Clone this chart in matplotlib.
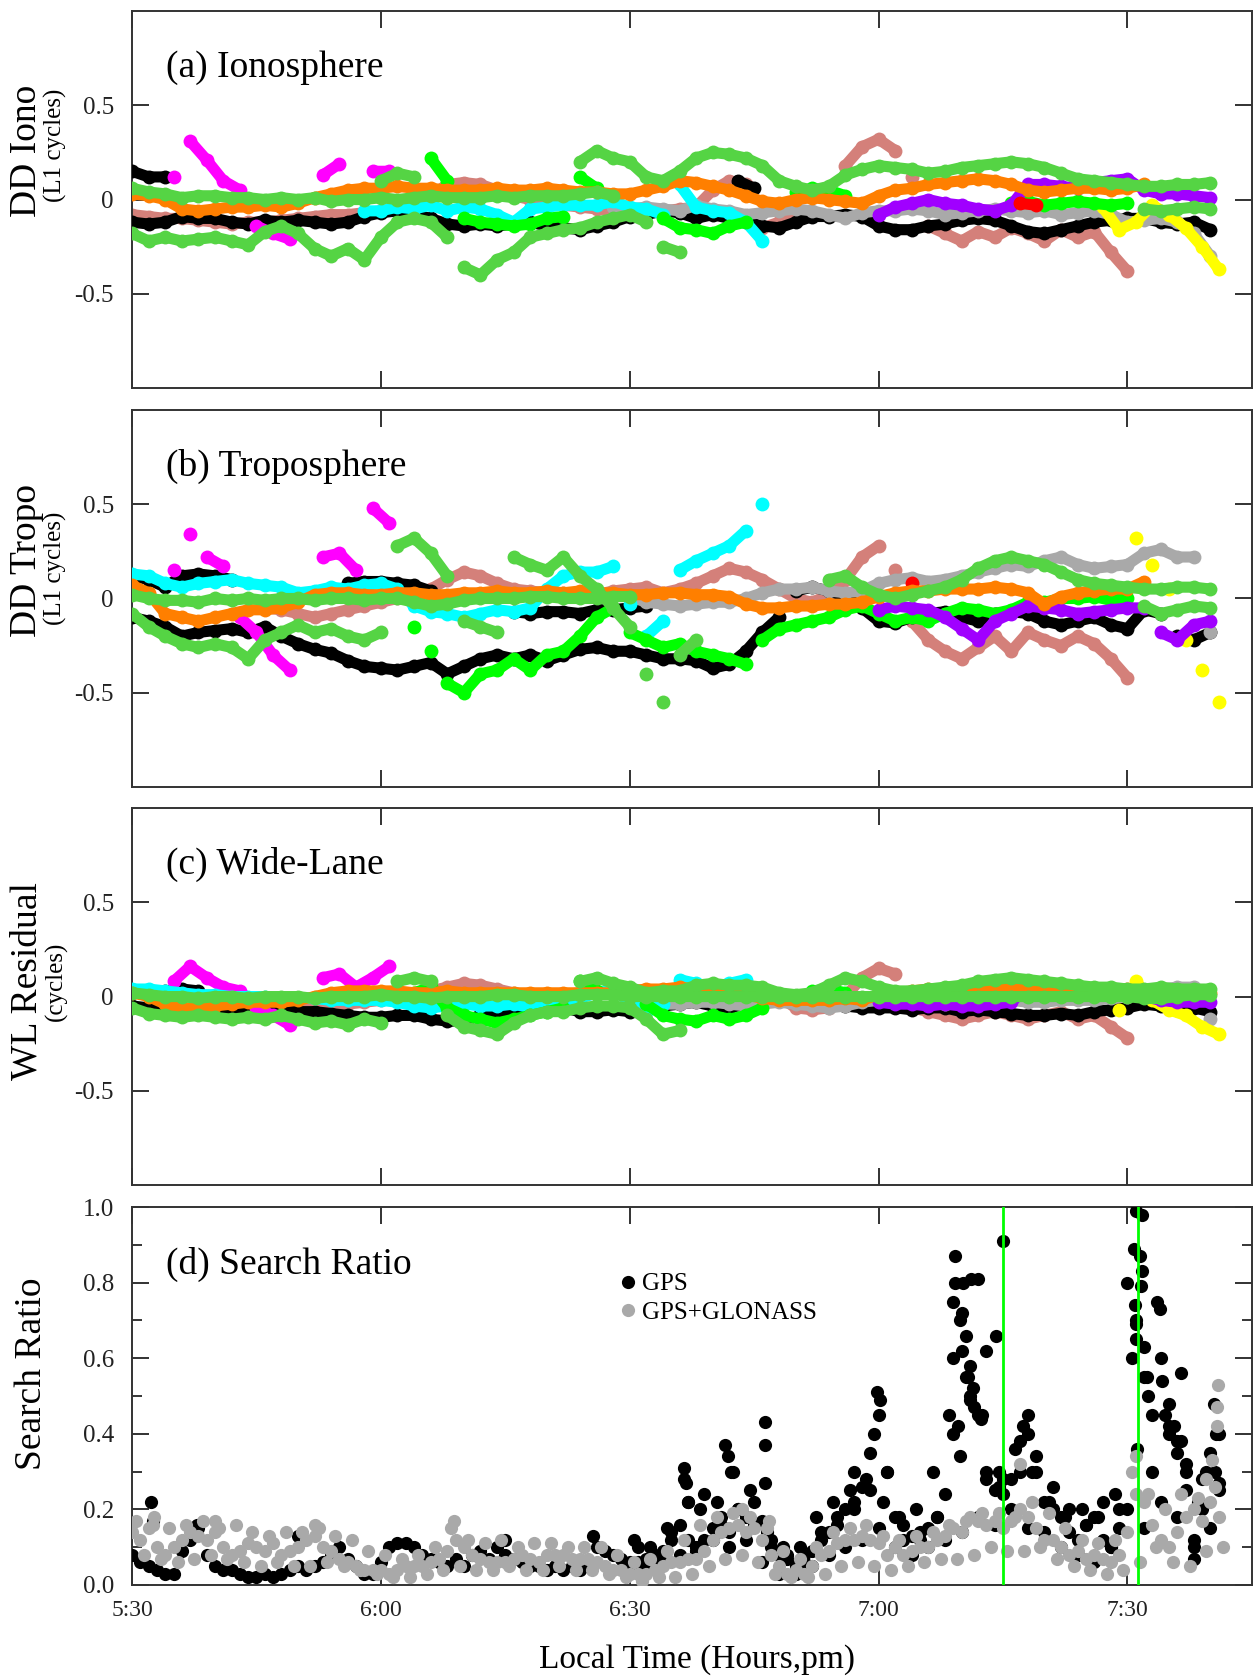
import numpy as np
import matplotlib
matplotlib.use('Agg')
from matplotlib import pyplot as plt
from matplotlib.ticker import MultipleLocator

nan = np.nan

# time in minutes after 5:30 pm, residual series sampled every 2 minutes
STEP = 2.0

# ---------------- (a) Ionosphere ----------------
iono_black_lo = [-0.12, -0.13, -0.12, -0.09, -0.10, -0.10, -0.12, -0.13, -0.11, -0.12,
                 -0.11, -0.12, -0.13, -0.12, -0.09, -0.07, -0.06, -0.08, -0.10, -0.13,
                 -0.14, -0.13, -0.14, -0.13, -0.12, -0.14, -0.15, -0.16, -0.14, -0.12,
                 -0.09, -0.08, -0.06, -0.07, -0.10, -0.08, -0.10, -0.12, -0.14, -0.15,
                 -0.12, -0.09, -0.09, -0.08, -0.09, -0.14, -0.16, -0.16, -0.14, -0.13,
                 -0.11, -0.10, -0.11, -0.14, -0.17, -0.18, -0.16, -0.14, -0.12, -0.11,
                 -0.10, -0.10, -0.12, -0.13, -0.12, -0.16]
iono_black_early = [0.15, 0.12, 0.12]
iono_black_mid = [0.10, 0.06]
iono_magenta = [0.12, 0.31, 0.21, 0.10, 0.05, -0.14, -0.18, -0.21, nan, 0.13, 0.19, nan, 0.15, 0.15]
iono_orange = [0.03, 0.02, 0.00, -0.05, -0.06, -0.05, -0.04, -0.04, -0.03, -0.04,
               -0.02, 0.01, 0.03, 0.05, 0.06, 0.06, 0.07, 0.06, 0.06, 0.05,
               0.05, 0.05, 0.06, 0.05, 0.05, 0.06, 0.05, 0.04, 0.04, 0.03,
               0.03, 0.05, 0.07, 0.10, 0.09, 0.07, 0.05, 0.02, -0.01, -0.02,
               0.00, 0.01, 0.00, -0.01, -0.02, 0.02, 0.05, 0.06, 0.08, 0.09,
               0.10, 0.11, 0.10, 0.08, 0.05, 0.04, 0.05, 0.06, 0.06, 0.05,
               0.06, 0.08]
iono_cyan = [-0.06, -0.06, -0.04, -0.05, -0.03, -0.06, -0.04, -0.05, -0.08, -0.12,
             -0.05, -0.04, -0.03, -0.03, -0.03, -0.01, -0.04, -0.05, -0.08, 0.08,
             -0.04, -0.06, -0.07, -0.12, -0.22]
iono_lime_zero = [0.06, 0.04, 0.03, 0.01, 0.02, 0.02, 0.01, 0.01, 0.00, 0.01,
                  0.00, 0.01, -0.01, 0.00, 0.00, 0.01, 0.00, 0.01, 0.02, 0.01,
                  0.01, 0.01, 0.02, 0.01, 0.02, 0.02, 0.02, 0.03, 0.04, 0.02]
iono_lime_low = [-0.18, -0.22, -0.20, -0.22, -0.21, -0.20, -0.22, -0.24, -0.17, -0.14,
                 -0.18, -0.26, -0.30, -0.26, -0.32, -0.20, -0.12, -0.10, -0.12, -0.20,
                 -0.36, -0.40, -0.32, -0.28, -0.20, -0.18, -0.16, -0.15, -0.12, -0.10,
                 -0.08, -0.12, -0.25, -0.28]
iono_lime_hi = [0.20, 0.26, 0.22, 0.20, 0.12, 0.10, 0.15, 0.22, 0.25, 0.24,
                0.22, 0.18, 0.10, 0.07, 0.05, 0.07, 0.13, 0.16, 0.18, 0.17,
                0.16, 0.14, 0.15, 0.17, 0.18, 0.19, 0.20, 0.19, 0.17, 0.14,
                0.11, 0.10, 0.09, 0.08, 0.07, 0.07, 0.08, 0.08, 0.09]
iono_lime_hump = [0.10, 0.14, 0.12]
iono_lime_late = [-0.05, -0.06, -0.05, -0.04, -0.05]
iono_green = [0.05, 0.22, 0.10, -0.10, -0.12, -0.13, -0.14, -0.13, -0.10, -0.09,
              0.12, 0.06, nan, nan, nan, -0.10, -0.15, -0.16, -0.18, -0.14,
              -0.12, nan, nan, 0.04, 0.06, 0.05, 0.02, nan, nan, nan,
              nan, nan, nan, nan, nan, nan, -0.02, -0.01, -0.03, -0.02,
              -0.01, -0.02, -0.03, -0.02]
iono_rose = [-0.08, -0.09, -0.10, -0.10, -0.11, -0.12, -0.13, -0.12, -0.12, -0.11,
             -0.10, -0.09, -0.08, -0.08, -0.07, -0.06, -0.05, -0.04, 0.02, 0.08,
             0.09, 0.08, 0.05, 0.02, 0.00, -0.02, -0.03, -0.04, -0.05, -0.06,
             -0.07, -0.06, -0.06, -0.05, -0.04, 0.05, 0.10, 0.08, -0.15, -0.12,
             -0.10, -0.08, 0.05, 0.18, 0.28, 0.32, 0.26, 0.12, -0.14, -0.18,
             -0.22, -0.17, -0.20, -0.15, -0.18, -0.22, -0.16, -0.20, -0.17, -0.28,
             -0.38]
iono_gray = [-0.04, -0.05, -0.04, -0.05, -0.06, -0.03, -0.05, -0.06, -0.08, -0.07,
             -0.06, -0.05, -0.06, -0.08, -0.10, -0.07, -0.06, -0.06, -0.05, -0.06,
             -0.08, -0.07, -0.06, -0.05, -0.06, -0.07, -0.06, -0.08, -0.07, -0.06,
             -0.08, -0.12, -0.11, -0.10, -0.12, -0.18, -0.30]
iono_purple = [-0.08, -0.04, -0.02, 0.00, -0.02, -0.03, -0.05, -0.06, -0.03, 0.08,
               0.08, 0.07, 0.06, 0.09, 0.10, 0.11, 0.05, 0.03, 0.03, 0.02, 0.01]
iono_red = [-0.02, -0.03]
iono_yellow = [-0.04, -0.16, -0.12, -0.03, -0.08, -0.15, -0.25, -0.37]

# ---------------- (b) Troposphere ----------------
tropo_black_lo = [-0.10, -0.12, -0.15, -0.20, -0.18, -0.17, -0.16, -0.18, -0.15, -0.20,
                  -0.24, -0.27, -0.29, -0.33, -0.36, -0.37, -0.38, -0.36, -0.34, -0.40,
                  -0.36, -0.32, -0.30, -0.32, -0.30, -0.33, -0.30, -0.27, -0.26, -0.28,
                  -0.28, -0.30, -0.32, -0.32, -0.33, -0.37, -0.35, -0.28, -0.18, -0.10,
                  0.04, 0.06, 0.04, 0.01, -0.05, -0.12, -0.13, -0.10, -0.08, -0.07,
                  -0.10, -0.12, -0.08, -0.07, -0.08, -0.12, -0.14, -0.12, -0.10, -0.14,
                  -0.16, -0.06, -0.08, -0.20, -0.22, -0.18]
tropo_black_hi = [0.12, 0.10, 0.06, 0.12, 0.13, 0.12, 0.10, nan, nan, nan,
                  nan, nan, nan, 0.08, 0.09, 0.09, 0.08, 0.07, 0.04, nan,
                  nan, nan, nan, -0.07, -0.08, -0.07, -0.07, -0.08, -0.06, -0.06,
                  -0.05, -0.04]
tropo_magenta = [0.15, 0.34, 0.22, 0.17, -0.10, -0.18, -0.30, -0.38, nan, 0.22, 0.24, 0.15, 0.48, 0.40]
tropo_cyan = [0.13, 0.12, 0.08, 0.06, 0.08, 0.09, 0.10, 0.08, 0.07, 0.06,
              0.03, 0.04, 0.06, 0.05, 0.07, 0.08, 0.05, -0.04, -0.07, -0.08,
              -0.10, -0.08, -0.06, -0.07, -0.05, 0.05, 0.12, 0.14, 0.14, 0.17,
              -0.03, -0.20, -0.12, 0.15, 0.20, 0.24, 0.28, 0.36, 0.50]
tropo_orange = [0.07, 0.03, -0.08, -0.10, -0.12, -0.10, -0.08, -0.06, -0.06, -0.05,
                -0.02, 0.02, 0.03, 0.03, 0.02, 0.02, 0.03, 0.03, 0.02, 0.02,
                0.03, 0.03, 0.04, 0.03, 0.03, 0.04, 0.03, 0.04, 0.03, 0.03,
                0.02, 0.02, 0.03, 0.03, 0.02, 0.02, 0.01, -0.03, -0.05, -0.05,
                -0.04, -0.04, -0.03, -0.03, -0.02, 0.01, 0.03, 0.04, 0.04, 0.05,
                0.05, 0.05, 0.06, 0.05, 0.03, -0.03, 0.01, 0.03, 0.04, 0.05,
                0.05, 0.09]
tropo_lime_zero = [0.02, 0.00, -0.01, -0.01, -0.02, 0.00, -0.01, 0.00, -0.01, 0.00,
                   0.00, -0.01, 0.00, 0.00, -0.01, 0.00, 0.00, -0.02, -0.04, -0.03,
                   -0.01, 0.00, 0.00, 0.00, 0.01, 0.01, 0.00, 0.00, 0.00, 0.01, 0.01]
tropo_lime_low = [-0.08, -0.15, -0.20, -0.24, -0.26, -0.24, -0.26, -0.32, -0.22, -0.18,
                  -0.14, -0.18, -0.16, -0.20, -0.22, -0.18, 0.28, 0.32, 0.24, 0.12,
                  -0.12, -0.15, -0.18, 0.22, 0.18, 0.15, 0.22, 0.12, 0.05, -0.05,
                  -0.15, -0.40, -0.55, -0.30, -0.22]
tropo_lime_hi = [0.10, 0.12, 0.06, 0.02, 0.00, 0.02, 0.04, 0.06, 0.10, 0.16,
                 0.20, 0.22, 0.20, 0.18, 0.14, 0.10, 0.08, 0.07, 0.06, 0.05,
                 0.05, 0.06, 0.06, 0.05]
tropo_lime_late = [-0.04, -0.08, -0.06, -0.04, -0.05]
tropo_green = [-0.15, -0.28, -0.45, -0.50, -0.40, -0.38, -0.32, -0.38, -0.30, -0.28,
               -0.20, -0.10, -0.05, -0.18, -0.22, -0.26, -0.24, -0.28, -0.30, -0.32,
               -0.35, -0.22, -0.16, -0.14, -0.12, -0.10, -0.06, -0.04, -0.08, -0.12,
               -0.10, -0.12, -0.08, -0.05, -0.06, -0.08, -0.06, -0.02, -0.02, 0.00,
               0.00, 0.01, -0.01, 0.00]
tropo_rose = [-0.05, -0.06, -0.08, -0.10, -0.08, -0.06, -0.04, -0.02, 0.00, 0.02,
              0.05, 0.10, 0.14, 0.12, 0.08, 0.05, 0.04, 0.03, 0.03, 0.03,
              0.02, 0.04, 0.05, 0.06, 0.03, 0.05, 0.08, 0.12, 0.16, 0.14,
              0.10, 0.05, 0.00, -0.02, 0.02, 0.10, 0.22, 0.28, 0.15, -0.12,
              -0.22, -0.28, -0.32, -0.26, -0.20, -0.28, -0.18, -0.22, -0.25, -0.20,
              -0.24, -0.32, -0.42]
tropo_gray = [0.01, -0.02, -0.03, -0.04, -0.03, -0.02, -0.02, 0.00, 0.03, 0.05,
              0.05, 0.06, 0.04, 0.03, 0.04, 0.08, 0.10, 0.11, 0.09, 0.10,
              0.12, 0.14, 0.16, 0.18, 0.17, 0.20, 0.22, 0.18, 0.16, 0.17,
              0.18, 0.24, 0.26, 0.22, 0.22, -0.18]
tropo_purple = [-0.06, -0.04, -0.05, -0.06, -0.10, -0.16, -0.22, -0.12, -0.08, -0.04,
                -0.05, -0.06, -0.08, -0.07, -0.06, -0.05, -0.05, -0.18, -0.22, -0.14, -0.12]
tropo_yellow = [0.32, 0.18, 0.05, -0.22, -0.38, -0.55]
tropo_red = [0.08]

# ---------------- (c) Wide-Lane ----------------
wl_black = [-0.05, -0.06, -0.06, -0.08, -0.07, -0.07, -0.06, -0.07, -0.06, -0.06,
            -0.08, -0.08, -0.09, -0.10, -0.11, -0.11, -0.10, -0.10, -0.12, -0.13,
            -0.13, -0.10, -0.08, -0.07, -0.07, -0.06, -0.06, -0.08, -0.08, -0.07,
            -0.08, -0.07, -0.05, -0.04, -0.03, -0.05, -0.06, -0.04, -0.02, -0.02,
            -0.03, -0.03, -0.04, -0.05, -0.06, -0.06, -0.06, -0.07, -0.06, -0.06,
            -0.08, -0.07, -0.08, -0.09, -0.10, -0.10, -0.09, -0.10, -0.08, -0.07,
            -0.06, -0.04, -0.05, -0.07, -0.06, -0.08]
wl_black_early = [0.03, 0.04, 0.03]
wl_magenta = [0.08, 0.16, 0.10, 0.05, 0.03, -0.06, -0.10, -0.15, nan, 0.10, 0.12, 0.05, 0.10, 0.16]
wl_orange = [0.02, 0.00, -0.04, -0.06, -0.06, -0.05, -0.04, -0.03, -0.03, -0.03,
             -0.02, 0.00, 0.02, 0.03, 0.03, 0.03, 0.03, 0.02, 0.02, 0.03,
             0.02, 0.02, 0.02, 0.02, 0.02, 0.02, 0.02, 0.02, 0.02, 0.02,
             0.03, 0.04, 0.04, 0.05, 0.04, 0.03, 0.02, 0.01, -0.01, -0.02,
             -0.02, -0.02, -0.02, -0.01, -0.02, 0.01, 0.02, 0.03, 0.04, 0.04,
             0.05, 0.05, 0.05, 0.05, 0.05, 0.04, 0.04, 0.03, 0.04, 0.04,
             0.04, 0.03, 0.02, 0.02, 0.02, 0.02]
wl_cyan = [0.04, 0.04, 0.03, 0.02, 0.01, 0.01, 0.00, 0.00, 0.00, -0.01,
           -0.01, -0.01, -0.02, -0.02, -0.02, -0.02, -0.03, -0.05, -0.06, -0.05,
           -0.04, -0.05, -0.05, -0.04, -0.06, -0.04, -0.03, -0.01, 0.02, 0.04,
           -0.03, -0.08, -0.04, 0.09, 0.07, 0.05, 0.07, 0.09]
wl_lime_zero = [0.02, 0.01, 0.00, 0.00, -0.01, 0.00, 0.00, -0.01, 0.00, 0.00,
                0.00, -0.01, 0.00, 0.00, 0.00, 0.01, 0.00, 0.00, -0.01, 0.00,
                0.00, 0.00, 0.01, 0.01, 0.00, 0.00, 0.00, 0.01, 0.01, 0.01,
                0.00, 0.00, 0.00, 0.00, 0.00, 0.00, 0.00, 0.00, 0.00, 0.00,
                0.00, 0.00, 0.00, 0.00, 0.00, 0.00, 0.00, 0.00, 0.00, 0.00,
                0.00, 0.00, 0.00, 0.00, 0.00, 0.00, 0.00, 0.00, 0.00, 0.00,
                0.00, -0.01, -0.01, 0.00, 0.01, 0.01]
wl_lime_low = [-0.06, -0.09, -0.10, -0.11, -0.10, -0.11, -0.12, -0.11, -0.12, -0.10,
               -0.12, -0.14, -0.13, -0.15, -0.12, -0.14, 0.08, 0.10, 0.08, -0.10,
               -0.16, -0.18, -0.20, -0.14, -0.10, -0.08, -0.08, -0.06, -0.05, -0.05,
               -0.06, -0.12, -0.20, -0.18]
wl_lime_hi = [0.08, 0.10, 0.07, 0.05, 0.02, 0.03, 0.03, 0.06, 0.07, 0.06,
              0.06, 0.05, 0.02, 0.01, 0.02, 0.06, 0.10, 0.08, 0.05, 0.03,
              0.03, 0.04, 0.05, 0.06, 0.08, 0.09, 0.10, 0.09, 0.08, 0.07,
              0.06, 0.05, 0.05, 0.04, 0.04, 0.05, 0.04, 0.04, 0.04]
wl_green = [0.02, 0.05, -0.06, -0.10, -0.12, -0.14, -0.12, -0.10, -0.08, -0.06,
            0.08, 0.03, nan, nan, -0.04, -0.10, -0.12, -0.13, -0.10, -0.12,
            -0.10, -0.06, nan, nan, 0.03, 0.04, 0.02]
wl_rose = [-0.04, -0.05, -0.06, -0.05, -0.04, -0.03, -0.02, -0.01, 0.00, 0.03,
           0.05, 0.07, 0.06, 0.04, 0.02, 0.01, 0.01, 0.01, 0.02, 0.02,
           0.03, 0.04, 0.03, 0.02, 0.02, 0.03, 0.04, 0.05, 0.06, 0.04,
           0.00, -0.06, -0.07, -0.06, 0.00, 0.10, 0.15, 0.12, -0.06, -0.08,
           -0.10, -0.12, -0.10, -0.08, -0.10, -0.12, -0.10, -0.08, -0.12, -0.10,
           -0.16, -0.22]
wl_gray = [-0.02, -0.03, -0.04, -0.04, -0.03, -0.03, -0.04, -0.05, -0.04, -0.03,
           -0.04, -0.05, -0.06, -0.05, -0.03, -0.02, -0.02, -0.02, -0.03, -0.04,
           -0.03, -0.02, -0.02, -0.02, -0.03, -0.03, -0.02, -0.02, -0.02, -0.01,
           0.00, 0.03, 0.04, 0.05, 0.05, -0.12]
wl_purple = [-0.03, -0.04, -0.04, -0.05, -0.04, -0.05, -0.05, -0.04, -0.03, 0.05,
             0.05, 0.04, 0.03, 0.03, 0.03, 0.02, 0.00, -0.02, -0.03, -0.03, -0.03]
wl_yellow = [-0.07, 0.08, -0.02, -0.07, -0.10, -0.16, -0.20]

# ---------------- (d) Search ratio ----------------
# one value per minute
gps_ratio = [0.08, 0.06, 0.05, 0.04, 0.03, 0.03, 0.09, 0.12, 0.15, 0.08,
             0.05, 0.04, 0.04, 0.03, 0.02, 0.02, 0.03, 0.02, 0.03, 0.04,
             0.05, 0.04, 0.05, 0.06, 0.08, 0.10, 0.07, 0.05, 0.03, 0.03,
             0.06, 0.10, 0.11, 0.11, 0.10, 0.08, 0.07, 0.06, 0.05, 0.07,
             0.05, 0.08, 0.09, 0.07, 0.10, 0.08, 0.07, 0.06, 0.05, 0.05,
             0.04, 0.05, 0.04, 0.05, 0.04, 0.05, 0.10, 0.09, 0.08, 0.07,
             0.06, 0.06, 0.07, 0.07, 0.09, 0.14, 0.16, 0.12, 0.09, 0.12,
             0.15, 0.18, 0.14, 0.20, 0.18, 0.16, 0.17, 0.12, 0.08, 0.07,
             0.05, 0.06, 0.09, 0.12, 0.14, 0.18, 0.20, 0.22, 0.26, 0.35,
             0.45, 0.30, 0.18, 0.12, 0.13, 0.12, 0.15, 0.18, 0.24, 0.60,
             0.72, 0.58, 0.45, 0.30, 0.25, 0.24, 0.28, 0.38, 0.40, 0.30,
             0.22, 0.20, 0.18, 0.14, 0.12, 0.16, 0.18, 0.12, 0.10, 0.15,
             0.80, 0.65, 0.55, 0.30, 0.60, 0.42, 0.35, 0.30, 0.12, 0.20,
             0.35, 0.25]
# further readings of the GPS cloud, every 2 minutes from 6:30
gps_low_6_30 = [0.04, 0.05, 0.06, 0.08, 0.10, 0.12, 0.10, 0.12, 0.06, 0.03,
                0.03, 0.05, 0.08, 0.10, 0.12, 0.15, 0.10, 0.08, 0.10, 0.12,
                0.14, 0.18, 0.16, 0.20, 0.15, 0.14, 0.10, 0.08, 0.06, 0.10,
                0.20, 0.15, 0.22, 0.18, 0.10, 0.15]
gps_mid_6_30 = [0.10, 0.08, 0.12, 0.22, 0.24, 0.16, 0.20, 0.22, 0.10, 0.08,
                0.08, 0.14, 0.16, 0.20, 0.25, 0.30, 0.16, 0.14, 0.18, 0.40,
                0.50, 0.62, 0.28, 0.30, 0.34, 0.26, 0.20, 0.16, 0.22, 0.20,
                0.70, 0.45, 0.40, 0.32, 0.28, 0.40]
gps_high_6_30 = [0.12, 0.10, 0.15, 0.28, 0.20, 0.22, 0.30, 0.25, 0.14, 0.10,
                 0.10, 0.18, 0.22, 0.25, 0.28, 0.22, 0.18, 0.20, 0.30, 0.45,
                 0.55, 0.45, 0.26, 0.36, 0.30, 0.22, 0.18, 0.20, 0.18, 0.24,
                 0.60, 0.50, 0.45, 0.38, 0.22, 0.30]
gps_extra_t = [2.3, 2.5, 7.8, 20.0, 45.0, 55.6, 66.6, 66.8, 67.0, 71.5, 71.8, 72.2,
               76.3, 76.3, 76.3, 87.0, 89.8, 90.2, 89.5, 99.2, 99.2, 100.2, 101.2,
               102.0, 99.0, 99.8, 100.5, 100.0, 100.8, 101.4, 101.0, 99.6, 99.8,
               101.5, 102.3, 104.1, 105.0, 103.0, 104.5, 108.0, 107.4, 121.0,
               121.8, 120.8, 121.5, 121.7, 121.6, 120.9, 121.0, 121.2, 122.0,
               122.3, 123.6, 123.9, 124.2, 125.0, 125.6, 126.5, 126.0, 127.0,
               128.0, 129.5, 130.4, 130.7, 131.0]
gps_extra_v = [0.22, 0.17, 0.16, 0.13, 0.12, 0.13, 0.31, 0.27, 0.22, 0.37, 0.34, 0.30,
               0.43, 0.37, 0.27, 0.30, 0.51, 0.49, 0.40, 0.87, 0.80, 0.80, 0.81,
               0.81, 0.75, 0.70, 0.66, 0.62, 0.55, 0.52, 0.49, 0.42, 0.34,
               0.47, 0.44, 0.66, 0.91, 0.28, 0.30, 0.45, 0.42, 0.99,
               0.98, 0.89, 0.87, 0.83, 0.79, 0.74, 0.69, 0.36, 0.63,
               0.55, 0.75, 0.73, 0.54, 0.48, 0.42, 0.56, 0.38, 0.25,
               0.07, 0.30, 0.48, 0.40, 0.27]
glo_ratio = [0.14, 0.12, 0.15, 0.10, 0.08, 0.10, 0.12, 0.14, 0.13, 0.12,
             0.14, 0.10, 0.08, 0.09, 0.11, 0.10, 0.09, 0.11, 0.08, 0.09,
             0.10, 0.12, 0.13, 0.10, 0.09, 0.07, 0.06, 0.05, 0.04, 0.04,
             0.04, 0.03, 0.04, 0.05, 0.05, 0.05, 0.06, 0.07, 0.09, 0.12,
             0.10, 0.08, 0.07, 0.06, 0.06, 0.06, 0.07, 0.08, 0.07, 0.06,
             0.08, 0.08, 0.08, 0.07, 0.07, 0.07, 0.06, 0.05, 0.04, 0.04,
             0.03, 0.03, 0.03, 0.04, 0.05, 0.06, 0.06, 0.07, 0.07, 0.09,
             0.12, 0.14, 0.15, 0.16, 0.14, 0.15, 0.12, 0.08, 0.05, 0.03,
             0.04, 0.03, 0.05, 0.08, 0.09, 0.11, 0.12, 0.12, 0.13, 0.12,
             0.11, 0.08, 0.10, 0.08, 0.09, 0.10, 0.10, 0.12, 0.13, 0.15,
             0.14, 0.18, 0.17, 0.16, 0.17, 0.15, 0.17, 0.20, 0.18, 0.15,
             0.12, 0.12, 0.10, 0.08, 0.09, 0.07, 0.08, 0.07, 0.06, 0.08,
             0.14, 0.24, 0.22, 0.16, 0.12, 0.10, 0.14, 0.18, 0.20, 0.17,
             0.22, 0.18]
# upper and lower edge of the grey cloud, every 2 minutes
glo_upper = [0.17, 0.16, 0.15, 0.16, 0.17, 0.15, 0.16, 0.14, 0.13, 0.14,
             0.14, 0.15, 0.13, 0.12, 0.09, 0.08, 0.07, 0.08, 0.10, 0.15,
             0.12, 0.11, 0.12, 0.10, 0.11, 0.11, 0.10, 0.10, 0.10, 0.08,
             0.06, 0.07, 0.09, 0.12, 0.16, 0.18, 0.19, 0.18, 0.15, 0.09,
             0.07, 0.10, 0.14, 0.15, 0.16, 0.13, 0.12, 0.13, 0.14, 0.16,
             0.17, 0.19, 0.19, 0.18, 0.22, 0.19, 0.15, 0.12, 0.11, 0.12,
             0.30, 0.24, 0.20, 0.24, 0.23, 0.26]
glo_lower = [0.08, 0.07, 0.06, 0.07, 0.08, 0.07, 0.06, 0.05, 0.06, 0.05,
             0.05, 0.06, 0.05, 0.04, 0.03, 0.02, 0.02, 0.03, 0.04, 0.05,
             0.04, 0.04, 0.05, 0.04, 0.04, 0.05, 0.04, 0.04, 0.03, 0.02,
             0.01, 0.02, 0.02, 0.03, 0.05, 0.07, 0.08, 0.06, 0.03, 0.02,
             0.02, 0.03, 0.05, 0.06, 0.05, 0.04, 0.05, 0.06, 0.07, 0.07,
             0.08, 0.10, 0.09, 0.09, 0.10, 0.07, 0.05, 0.04, 0.03, 0.04,
             0.06, 0.10, 0.06, 0.05, 0.09, 0.10]
glo_extra_t = [121.0, 107.0, 130.9, 130.8, 130.8, 130.2, 129.5, 2.6, 10.0, 22.0, 38.8, 73.5, 76.8]
glo_extra_v = [0.34, 0.32, 0.53, 0.47, 0.42, 0.33, 0.28, 0.18, 0.17, 0.16, 0.17, 0.20, 0.17]

event_times = [105.0, 121.25]

time_ticks = [0, 30, 60, 90, 120]
time_labels = ['5:30', '6:00', '6:30', '7:00', '7:30']

BLACK, MAGENTA, ORANGE, CYAN = '#000000', '#ff00ff', '#ff7f00', '#00ffff'
LIME, GREEN, ROSE, GRAY = '#55d444', '#00ff00', '#d4807a', '#a9a9a9'
PURPLE, RED, YELLOW = '#a000ff', '#ff0000', '#ffff00'

plt.rcParams['font.family'] = ['Liberation Serif', 'DejaVu Serif']


def draw_series(ax, start, vals, color, z):
    v = np.asarray(vals, dtype=float)
    t = start + STEP * np.arange(len(v))
    # break the stroke where the value jumps
    tt, vv = [], []
    for i in range(len(v)):
        if i > 0 and abs(v[i] - v[i - 1]) > 0.12:
            tt.append(nan)
            vv.append(nan)
        tt.append(t[i])
        vv.append(v[i])
    ax.plot(tt, vv, '-', color=color, lw=8, solid_capstyle='round',
            solid_joinstyle='round', zorder=z)
    ax.plot(t, v, 'o', color=color, ms=10, mec='none', zorder=z)


def style_axes(ax, bottom_labels=False):
    ax.set_xlim(0, 135)
    ax.set_xticks(time_ticks)
    if bottom_labels:
        ax.set_xticklabels(time_labels)
    else:
        ax.set_xticklabels([])
    ax.tick_params(which='major', direction='in', length=12, width=1.3,
                   top=True, right=True, labelsize=17, colors='#222222')
    ax.tick_params(axis='x', pad=11)
    ax.tick_params(axis='y', pad=13, labelsize=18)
    ax.tick_params(which='minor', direction='in', length=7, width=1.1,
                   top=True, right=True)
    for s in ax.spines.values():
        s.set_linewidth(1.4)
        s.set_color('#333333')


fig = plt.figure(figsize=(12.54, 16.79), dpi=100)
L, W = 0.1053, 0.893
rects = [(L, 0.7689, W, 0.2245), (L, 0.5313, W, 0.2245),
         (L, 0.2942, W, 0.2245), (L, 0.0560, W, 0.2251)]

panels = [
    ('(a) Ionosphere', 'DD Iono', '(L1 cycles)', [
        (0, iono_rose, ROSE), (0, iono_black_lo, BLACK), (0, iono_black_early, BLACK),
        (73, iono_black_mid, BLACK), (58, iono_gray, GRAY), (117, iono_yellow, YELLOW),
        (5, iono_magenta, MAGENTA), (28, iono_cyan, CYAN), (34, iono_green, GREEN),
        (90, iono_purple, PURPLE), (107, iono_red, RED), (0, iono_orange, ORANGE),
        (0, iono_lime_low, LIME), (0, iono_lime_zero, LIME), (54, iono_lime_hi, LIME),
        (30, iono_lime_hump, LIME), (122, iono_lime_late, LIME)]),
    ('(b) Troposphere', 'DD Tropo', '(L1 cycles)', [
        (16, tropo_rose, ROSE), (0, tropo_black_lo, BLACK), (0, tropo_black_hi, BLACK),
        (60, tropo_gray, GRAY), (121, tropo_yellow, YELLOW), (5, tropo_magenta, MAGENTA),
        (0, tropo_cyan, CYAN), (34, tropo_green, GREEN), (90, tropo_purple, PURPLE),
        (94, tropo_red, RED), (0, tropo_orange, ORANGE), (0, tropo_lime_low, LIME),
        (0, tropo_lime_zero, LIME), (84, tropo_lime_hi, LIME), (122, tropo_lime_late, LIME)]),
    ('(c) Wide-Lane', 'WL Residual', '(cycles)', [
        (18, wl_rose, ROSE), (0, wl_black, BLACK), (4, wl_black_early, BLACK),
        (60, wl_gray, GRAY), (119, wl_yellow, YELLOW), (5, wl_magenta, MAGENTA),
        (0, wl_cyan, CYAN), (34, wl_green, GREEN), (90, wl_purple, PURPLE),
        (0, wl_orange, ORANGE), (0, wl_lime_low, LIME), (54, wl_lime_hi, LIME),
        (0, wl_lime_zero, LIME)]),
]

label_y = [(0.63, 0.645), (0.60, 0.58), (0.54, 0.54)]

for k, (title, ylab, unit, series) in enumerate(panels):
    ax = fig.add_axes(rects[k])
    for z, (start, vals, col) in enumerate(series):
        draw_series(ax, start, vals, col, z + 2)
    ax.set_ylim(-1, 1)
    ax.set_yticks([-0.5, 0, 0.5])
    ax.set_yticklabels(['-0.5', '0', '0.5'])
    style_axes(ax)
    ax.text(0.03, 0.85, title, transform=ax.transAxes, fontsize=27, va='center')
    ax.text(-0.094, label_y[k][0], ylab, transform=ax.transAxes, fontsize=27,
            rotation=90, ha='center', va='center')
    ax.text(-0.068, label_y[k][1], unit, transform=ax.transAxes, fontsize=18,
            rotation=90, ha='center', va='center')

# search ratio panel
ax = fig.add_axes(rects[3])
kw = dict(ms=9.5, mec='none', ls='none', marker='o')
gps_col = dict(color=BLACK, zorder=3, **kw)
glo_col = dict(color=GRAY, zorder=4, **kw)
ax.plot(np.arange(len(gps_ratio)), gps_ratio, label='GPS', **gps_col)
t2 = 60 + STEP * np.arange(len(gps_low_6_30))
ax.plot(t2, gps_low_6_30, **gps_col)
ax.plot(t2 + 1, gps_mid_6_30, **gps_col)
ax.plot(t2 + 0.5, gps_high_6_30, **gps_col)
ax.plot(gps_extra_t, gps_extra_v, **gps_col)
ax.plot(np.arange(len(glo_ratio)), glo_ratio, label='GPS+GLONASS', **glo_col)
t3 = STEP * np.arange(len(glo_upper))
ax.plot(t3 + 0.5, glo_upper, **glo_col)
ax.plot(t3 + 1.5, glo_lower, **glo_col)
ax.plot(glo_extra_t, glo_extra_v, **glo_col)
for et in event_times:
    ax.axvline(et, color=GREEN, lw=2, zorder=5)
ax.set_ylim(0, 1)
ax.set_yticks(np.arange(0, 1.01, 0.2))
ax.set_yticklabels(['%.1f' % v for v in np.arange(0, 1.01, 0.2)])
ax.yaxis.set_minor_locator(MultipleLocator(0.1))
style_axes(ax, bottom_labels=True)
ax.text(0.03, 0.847, '(d) Search Ratio', transform=ax.transAxes, fontsize=27, va='center')
ax.text(-0.090, 0.56, 'Search Ratio', transform=ax.transAxes, fontsize=27,
        rotation=90, ha='center', va='center')
ax.legend(loc='upper left', bbox_to_anchor=(0.412, 0.885), frameon=False, fontsize=18,
          handletextpad=0.05, labelspacing=0.25, markerscale=1.0, handlelength=1.0)

fig.text(0.556, 0.0113, 'Local Time (Hours,pm)', fontsize=24, ha='center', va='center')

fig.savefig('out.png', dpi=100)
